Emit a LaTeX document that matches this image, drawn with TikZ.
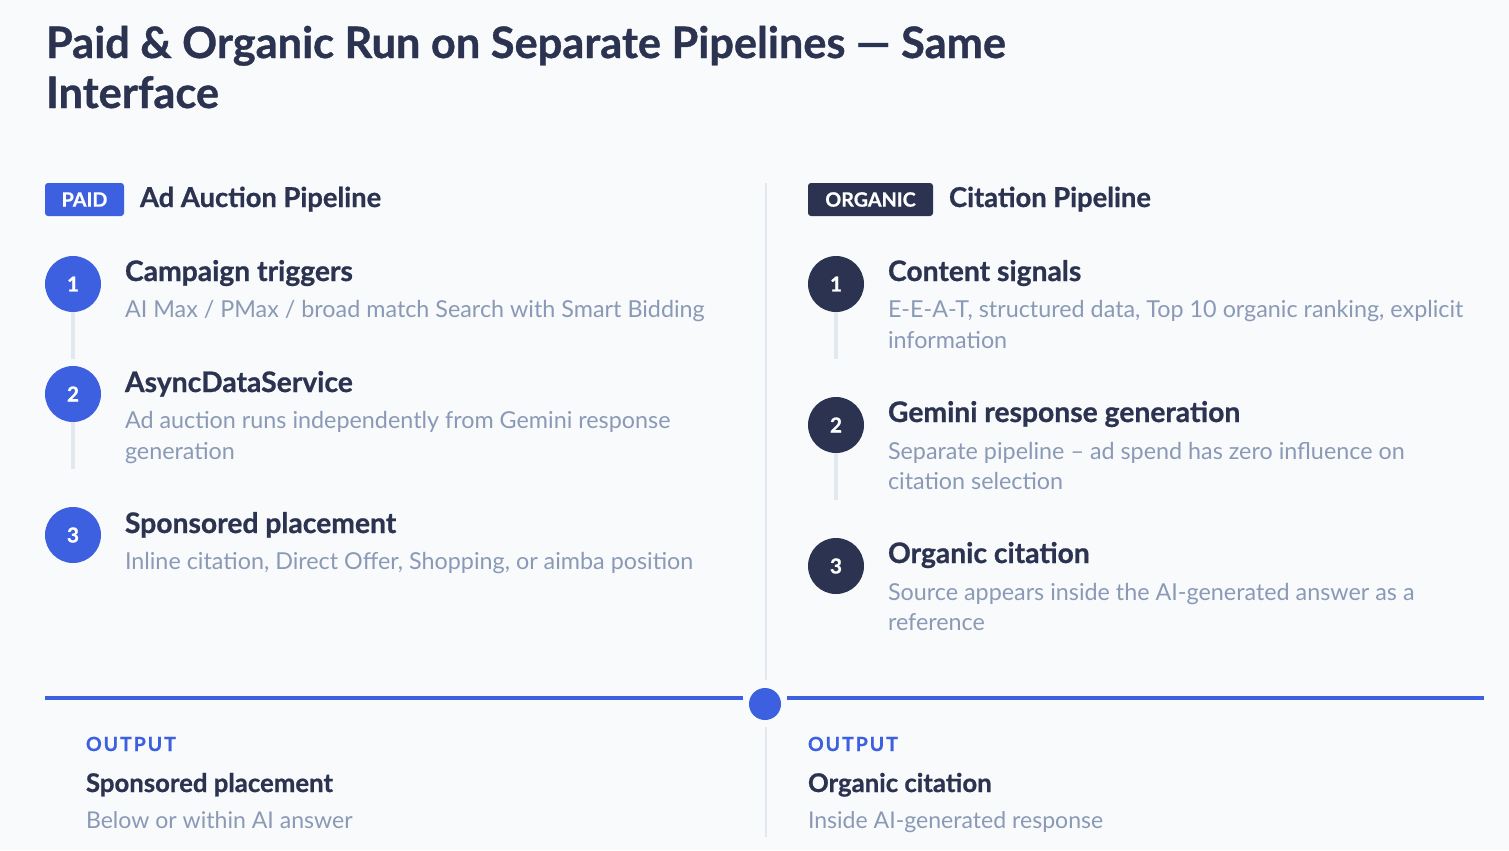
\documentclass[tikz,border=0pt]{standalone}
\usepackage{fontspec}
\setmainfont{Lato}[BoldFeatures={FakeBold=0.8}]
\definecolor{bg}{HTML}{F8FAFC}
\definecolor{navy}{HTML}{2B3350}
\definecolor{blue}{HTML}{3C60E0}
\definecolor{muted}{HTML}{8A9AB6}
\definecolor{rule}{HTML}{E2E8F0}
\begin{document}
\begin{tikzpicture}[x=0.75pt,y=-0.75pt,
  txt/.style={anchor=base west, inner sep=0pt, outer sep=0pt},
  title/.style={txt, text=navy, font=\fontsize{32.5pt}{37pt}\selectfont\bfseries},
  head/.style={txt, text=navy, font=\fontsize{20.5pt}{23pt}\selectfont\bfseries},
  stitle/.style={txt, text=navy, font=\fontsize{21.2pt}{23pt}\selectfont\bfseries},
  desc/.style={txt, text=muted, font=\fontsize{17.5pt}{23pt}\selectfont},
  outlbl/.style={txt, text=blue, font=\fontsize{14.6pt}{17pt}\selectfont\bfseries\addfontfeature{LetterSpace=10}},
  outtitle/.style={txt, text=navy, font=\fontsize{19.3pt}{22pt}\selectfont\bfseries},
  outdesc/.style={txt, text=muted, font=\fontsize{17.3pt}{20pt}\selectfont},
  badge/.style={rectangle, rounded corners=2.25pt, text=white, minimum height=24.75pt, inner sep=0pt,
     font=\fontsize{14.8pt}{15pt}\selectfont\bfseries},
  numc/.style={circle, minimum size=42pt, inner sep=0pt, text=white, font=\fontsize{15.5pt}{16pt}\selectfont\bfseries},
  vline/.style={draw=rule, line width=3pt},
  sep/.style={draw=rule, line width=2pt},
  bline/.style={draw=blue, line width=3pt}
]
\useasboundingbox (0,0) rectangle (1509,850);
\fill[bg] (0,0) rectangle (1509,850);

% Title
\node[title] (t1) at (46,58) {Paid \& Organic Run on Separate Pipelines — Same};
\node[title] (t2) at (46,108) {Interface};

% separators
\coordinate (s1a) at (766,183);
\coordinate (s1b) at (766,680);
\coordinate (s2a) at (766,727);
\coordinate (s2b) at (766,837);
\draw[sep] (s1a) -- (s1b);
\draw[sep] (s2a) -- (s2b);

% Left header
\node[badge, fill=blue, minimum width=59.25pt] (paid) at (84.5,199.5) {PAID};
\node[head] (lh) at (140,207) {Ad Auction Pipeline};

% Right header
\node[badge, fill=navy, minimum width=93.75pt] (org) at (870.5,199.5) {ORGANIC};
\node[head] (rh) at (949,207) {Citation Pipeline};

% Left steps
\node[numc, fill=blue] (l1) at (73,284) {1};
\node[numc, fill=blue] (l2) at (73,394) {2};
\node[numc, fill=blue] (l3) at (73,535) {3};
\coordinate (l1e) at (73,359);
\coordinate (l2e) at (73,469);
\draw[vline] (l1.south) -- (l1e);
\draw[vline] (l2.south) -- (l2e);

\node[stitle] (lt1) at (125,281) {Campaign triggers};
\node[desc] (ld1) at (125,317) {AI Max / PMax / broad match Search with Smart Bidding};
\node[stitle] (lt2) at (125,392) {AsyncDataService};
\node[desc] (ld2a) at (125,428) {Ad auction runs independently from Gemini response};
\node[desc] (ld2b) at (125,459) {generation};
\node[stitle] (lt3) at (125,533) {Sponsored placement};
\node[desc] (ld3) at (125,569) {Inline citation, Direct Offer, Shopping, or aimba position};

% Right steps
\node[numc, fill=navy] (r1) at (836,284) {1};
\node[numc, fill=navy] (r2) at (836,425) {2};
\node[numc, fill=navy] (r3) at (836,566) {3};
\coordinate (r1e) at (836,359);
\coordinate (r2e) at (836,500);
\draw[vline] (r1.south) -- (r1e);
\draw[vline] (r2.south) -- (r2e);

\node[stitle] (rt1) at (888,281) {Content signals};
\node[desc] (rd1a) at (888,317) {E-E-A-T, structured data, Top 10 organic ranking, explicit};
\node[desc] (rd1b) at (888,348) {information};
\node[stitle] (rt2) at (888,422) {Gemini response generation};
\node[desc] (rd2a) at (888,459) {Separate pipeline – ad spend has zero influence on};
\node[desc] (rd2b) at (888,489) {citation selection};
\node[stitle] (rt3) at (888,563) {Organic citation};
\node[desc] (rd3a) at (888,600) {Source appears inside the AI-generated answer as a};
\node[desc] (rd3b) at (888,630) {reference};

% Blue line + dot
\node[circle, fill=blue, minimum size=24pt, inner sep=0pt] (dot) at (765,704) {};
\coordinate (bl0) at (45,697.5);
\coordinate (bl1) at (743,697.5);
\coordinate (br0) at (787,697.5);
\coordinate (br1) at (1484,697.5);
\draw[bline] (bl0) -- (bl1);
\draw[bline] (br0) -- (br1);

% Outputs
\node[outlbl] (lo) at (86,751) {OUTPUT};
\node[outtitle] (lot) at (86,792) {Sponsored placement};
\node[outdesc] (lod) at (86,828) {Below or within AI answer};
\node[outlbl] (ro) at (808,751) {OUTPUT};
\node[outtitle] (rot) at (808,792) {Organic citation};
\node[outdesc] (rod) at (808,828) {Inside AI-generated response};
\end{tikzpicture}
\end{document}
